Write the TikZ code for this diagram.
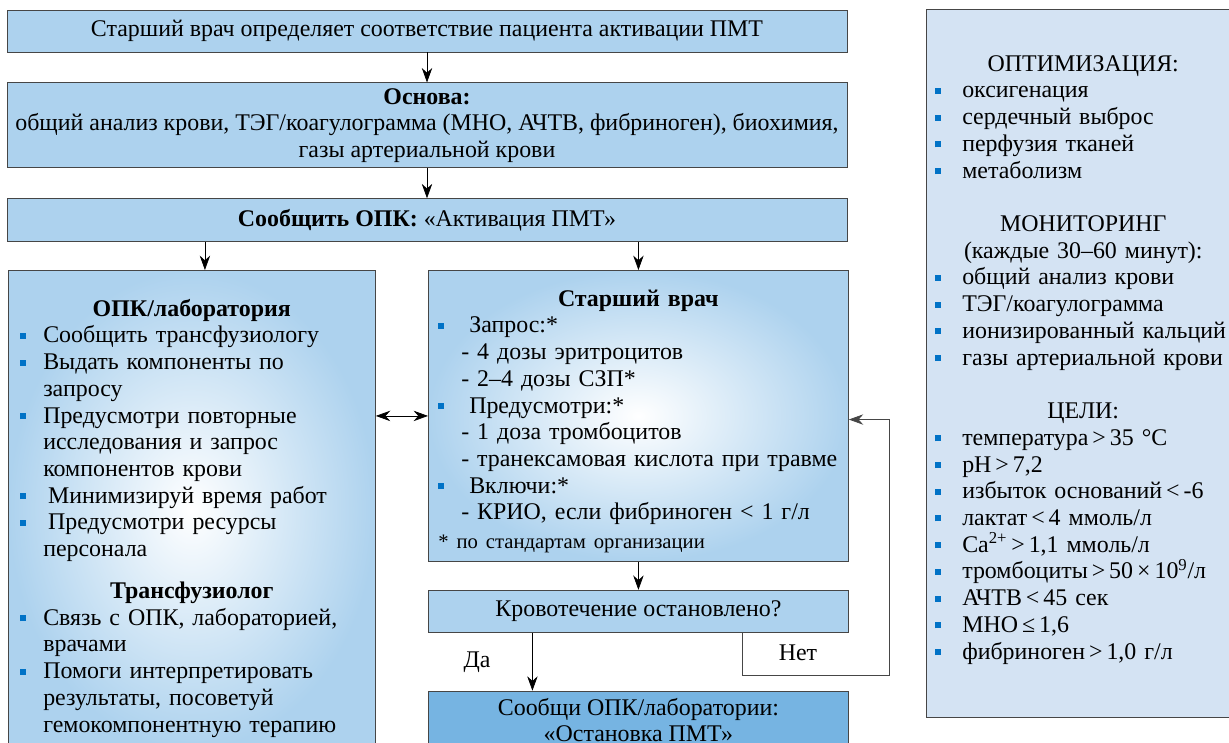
\documentclass[tikz,border=0pt]{standalone}
\usepackage{fontspec}
\setmainfont{Liberation Serif}
\usetikzlibrary{positioning,arrows.meta}
\definecolor{boxblue}{RGB}{173,210,238}
\definecolor{deepblue}{RGB}{118,180,226}
\definecolor{paleblue}{RGB}{212,227,243}
\definecolor{bulletblue}{RGB}{0,114,198}
\definecolor{edgegray}{RGB}{70,70,70}
\newcommand{\bsq}{\textcolor{bulletblue}{\rule[0.1cm]{0.15cm}{0.15cm}}}
\newcommand{\itm}[2][0.575cm]{\par\noindent\hangindent=#1\hangafter=1\makebox[#1][l]{\bsq}#2\par}
\newcommand{\dsh}[1]{\par\noindent\hspace*{0.575cm}#1\par}
\newcommand{\hd}[1]{\par{\centering #1\par}}

\begin{document}
\begin{tikzpicture}[
    box/.style={draw=edgegray, line width=0.6pt, fill=boxblue, inner sep=0pt,
        align=center, font=\fontsize{17}{19}\selectfont},
    glow/.style={draw=edgegray, line width=0.6pt, inner color=white, outer color=boxblue,
        inner sep=0pt, anchor=north west},
    pane/.style={inner sep=0pt, align=left, anchor=north west, font=\fontsize{17}{19}\selectfont},
    lbl/.style={inner sep=0pt, font=\fontsize{17}{19}\selectfont},
    arr/.style={-{Stealth[length=3.6mm,width=2.6mm]}, line width=0.5pt},
    dbl/.style={{Stealth[length=3.6mm,width=2.6mm]}-{Stealth[length=3.6mm,width=2.6mm]}, line width=0.5pt}
]
\useasboundingbox (0,0) rectangle (30.725,-18.55);

\node[box, minimum width=21cm, minimum height=1.05cm] (check) at (10.675,-0.775)
    {Старший врач определяет соответствие пациента активации ПМТ};
\node[box, minimum width=21cm, minimum height=2.125cm, below=0.75cm of check] (basis)
    {\textbf{Основа:}\\общий анализ крови, ТЭГ/коагулограмма (МНО, АЧТВ, фибриноген), биохимия,\\газы артериальной крови};
\node[box, minimum width=21cm, minimum height=1.075cm, below=0.75cm of basis] (notify)
    {\textbf{Сообщить ОПК:} «Активация ПМТ»};

\node[glow, minimum width=9.175cm, minimum height=11.95cm] (lab) at (0.2,-6.75) {};
\node[glow, minimum width=10.5cm, minimum height=7.275cm] (senior) at (10.7,-6.75) {};
\node[box, minimum width=10.5cm, minimum height=1.05cm, below=0.7cm of senior] (bleed)
    {Кровотечение остановлено?};
\node[box, fill=deepblue, minimum width=10.5cm, minimum height=1.45cm, below=1.45cm of bleed] (stop)
    {Сообщи ОПК/лаборатории:\\«Остановка ПМТ»};
\node[draw=edgegray, line width=0.6pt, fill=paleblue, inner sep=0pt, anchor=north west,
    minimum width=7.85cm, minimum height=17.7cm] (goals) at (23.15,-0.225) {};

\node[pane, text width=8.575cm, below right=0.48cm and 0.3cm of lab.north west] (labtxt) {%
    \hd{\strut\textbf{ОПК/лаборатория}}
    \itm{Сообщить трансфузиологу}
    \itm{Выдать компоненты по\newline запросу}
    \itm{Предусмотри повторные\newline исследования и запрос\newline компонентов крови}
    \itm{\hspace{0.12cm}Минимизируй время работ}
    \itm{\hspace{0.12cm}Предусмотри ресурсы\newline персонала}
    \vspace{0.38cm}
    \hd{\textbf{Трансфузиолог}}
    \itm{Связь с ОПК, лабораторией,\newline врачами}
    \itm{Помоги интерпретировать\newline результаты, посоветуй\newline гемокомпонентную терапию}};

\node[pane, text width=10cm, below right=0.23cm and 0.25cm of senior.north west] (seniortxt) {%
    \hd{\strut\textbf{Старший врач}}
    \itm[0.775cm]{Запрос:*}
    \dsh{- 4 дозы эритроцитов}
    \dsh{- 2–4 дозы СЗП*}
    \itm[0.775cm]{Предусмотри:*}
    \dsh{- 1 доза тромбоцитов}
    \dsh{- транексамовая кислота при травме}
    \itm[0.775cm]{Включи:*}
    \dsh{- КРИО, если фибриноген < 1 г/л}
    \vspace{0.05cm}
    \noindent{\fontsize{14.7}{17}\selectfont * по стандартам организации}\par};

\node[pane, text width=7.4cm, below right=0.88cm and 0.225cm of goals.north west] (goalstxt) {%
    \hd{\strut ОПТИМИЗАЦИЯ:}
    \itm[0.675cm]{оксигенация}
    \itm[0.675cm]{сердечный выброс}
    \itm[0.675cm]{перфузия тканей}
    \itm[0.675cm]{метаболизм}
    \vspace{0.67cm}
    \hd{МОНИТОРИНГ}
    \hd{(каждые 30–60 минут):}
    \itm[0.675cm]{общий анализ крови}
    \itm[0.675cm]{ТЭГ/коагулограмма}
    \itm[0.675cm]{ионизированный кальций}
    \itm[0.675cm]{газы артериальной крови}
    \vspace{0.67cm}
    \hd{ЦЕЛИ:}
    \itm[0.675cm]{температура\,>\,35~°C}
    \itm[0.675cm]{pH\,>\,7,2}
    \itm[0.675cm]{избыток оснований\,<\,-6}
    \itm[0.675cm]{лактат\,<\,4 ммоль/л}
    \itm[0.675cm]{Ca\textsuperscript{2+}\,>\,1,1 ммоль/л}
    \itm[0.675cm]{тромбоциты\,>\,50\,×\,10\textsuperscript{9}/л}
    \itm[0.675cm]{АЧТВ\,<\,45 сек}
    \itm[0.675cm]{МНО\,≤\,1,6}
    \itm[0.675cm]{фибриноген\,>\,1,0 г/л}};

\node[lbl] (yes) at (11.925,-16.55) {Да};
\node[lbl] (no) at (19.95,-16.325) {Нет};
\coordinate (turn) at (22.225,-16.875);

\draw[arr] (check) -- (basis);
\draw[arr] (basis) -- (notify);
\draw[arr] ([xshift=0.325cm]lab.north |- notify.south) -- ([xshift=0.325cm]lab.north);
\draw[arr] (notify.south -| senior.north) -- (senior.north);
\draw[dbl] (lab.east |- senior.west) -- (senior.west);
\draw[arr] (senior) -- (bleed);
\draw[arr] ([xshift=-2.65cm]bleed.south) -- ([xshift=-2.65cm]stop.north);
\draw[arr, draw=edgegray] ([xshift=2.6cm]bleed.south) |- (turn) |- ([yshift=-0.09cm]senior.east);
\end{tikzpicture}
\end{document}
